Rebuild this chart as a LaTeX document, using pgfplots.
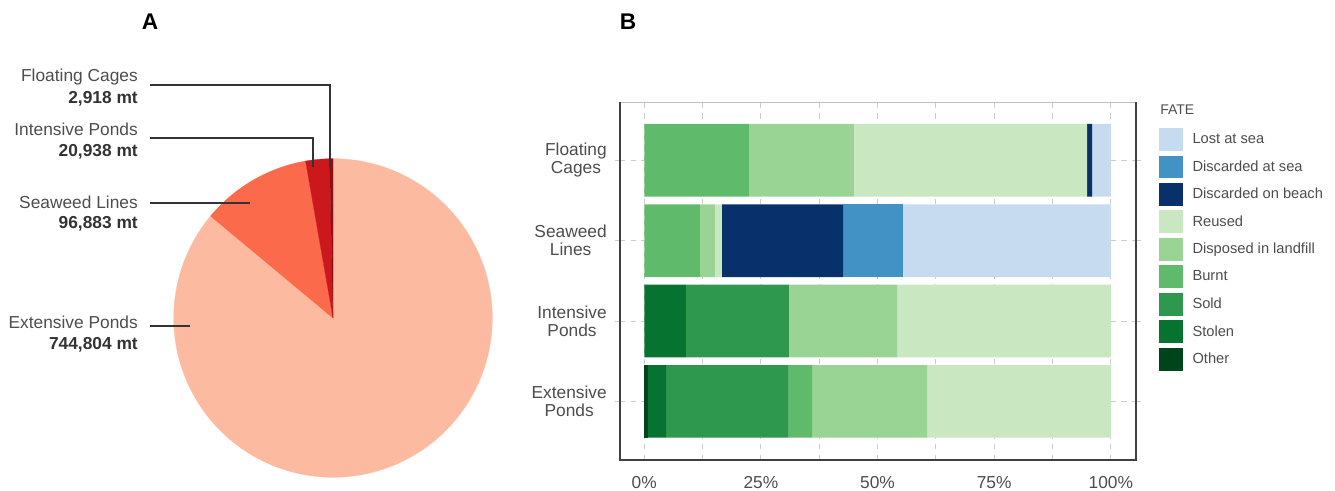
\documentclass[border=0pt]{standalone}
\usepackage{pgfplots}
\pgfplotsset{compat=1.18}
\usepackage{fontspec}
\setmainfont{Liberation Sans}
\definecolor{cEP}{HTML}{FCBBA1}
\definecolor{cSL}{HTML}{FB6A4A}
\definecolor{cIP}{HTML}{CB181D}
\definecolor{cFC}{HTML}{8E1016}
\definecolor{cLost}{HTML}{C6DBEF}
\definecolor{cAtSea}{HTML}{4292C6}
\definecolor{cBeach}{HTML}{08306B}
\definecolor{cReused}{HTML}{C9E8C1}
\definecolor{cLand}{HTML}{99D494}
\definecolor{cBurnt}{HTML}{60BA6C}
\definecolor{cSold}{HTML}{2F984F}
\definecolor{cStolen}{HTML}{077331}
\definecolor{cOther}{HTML}{00441B}
\definecolor{txt}{HTML}{4D4D4D}
\definecolor{txtb}{HTML}{333333}
\definecolor{gridc}{HTML}{CCCCCC}
% pie values, thousand mt
\def\vFC{2.918}
\def\vIP{20.938}
\def\vSL{96.883}
\def\vEP{744.804}
\pgfmathsetmacro\tot{\vFC+\vIP+\vSL+\vEP}
\pgfmathsetmacro\aA{90+(\vFC/\tot)*360}
\pgfmathsetmacro\aB{\aA+(\vIP/\tot)*360}
\pgfmathsetmacro\aC{\aB+(\vSL/\tot)*360}
\begin{document}
\begin{tikzpicture}
\path[use as bounding box] (0,0) rectangle (1001.25pt,367.5pt);
% ---------- Pie ----------
\begin{axis}[
  at={(249.75pt,129pt)}, anchor=center,
  scale only axis, width=239pt, height=239pt,
  xmin=-1, xmax=1, ymin=-1, ymax=1,
  hide axis, clip=false]
\addplot[fill=cEP, draw=cEP, line width=0.2pt, domain=\aC:450, samples=160] ({cos(x)},{sin(x)}) -- (axis cs:0,0) -- cycle;
\addplot[fill=cSL, draw=cSL, line width=0.2pt, domain=\aB:\aC, samples=40] ({cos(x)},{sin(x)}) -- (axis cs:0,0) -- cycle;
\addplot[fill=cIP, draw=cIP, line width=0.2pt, domain=\aA:\aB, samples=12] ({cos(x)},{sin(x)}) -- (axis cs:0,0) -- cycle;
\addplot[fill=cFC, draw=cFC, line width=0.2pt, domain=90:\aA, samples=4] ({cos(x)},{sin(x)}) -- (axis cs:0,0) -- cycle;
\end{axis}
% leader lines
\draw[txtb, line width=1pt] (112.5pt,303.75pt) -- (247.5pt,303.75pt) -- (247.5pt,242.25pt);
\draw[txtb, line width=1pt] (112.5pt,264pt) -- (234.75pt,264pt) -- (234.75pt,242.25pt);
\draw[txtb, line width=1pt] (112.5pt,215.25pt) -- (187.5pt,215.25pt);
\draw[txtb, line width=1pt] (112.5pt,123pt) -- (142.5pt,123pt);
\begin{scope}[every node/.style={anchor=east, inner sep=0pt, text height=9.3pt, text depth=0pt, font=\fontsize{13}{15}\selectfont}]
\node[text=txt] at (103.5pt,311.25pt) {Floating Cages};
\node[text=txtb, font=\fontsize{13}{15}\selectfont\bfseries] at (103.5pt,294.75pt) {2,918 mt};
\node[text=txt] at (103.5pt,270.75pt) {Intensive Ponds};
\node[text=txtb, font=\fontsize{13}{15}\selectfont\bfseries] at (103.5pt,255pt) {20,938 mt};
\node[text=txt] at (103.5pt,216pt) {Seaweed Lines};
\node[text=txtb, font=\fontsize{13}{15}\selectfont\bfseries] at (103.5pt,201pt) {96,883 mt};
\node[text=txt] at (103.5pt,126pt) {Extensive Ponds};
\node[text=txtb, font=\fontsize{13}{15}\selectfont\bfseries] at (103.5pt,110.25pt) {744,804 mt};
\end{scope}
\node[font=\fontsize{17}{19}\selectfont\bfseries, inner sep=0pt] at (112.5pt,351pt) {A};
\node[font=\fontsize{17}{19}\selectfont\bfseries, inner sep=0pt] at (471pt,351pt) {B};
% ---------- Stacked bars ----------
\begin{axis}[
  at={(465pt,22.5pt)}, anchor=south west,
  scale only axis, width=386.8pt, height=268.5pt,
  xbar stacked, bar width=54.5pt,
  xmin=-5.2, xmax=105.35, ymin=-0.73, ymax=3.726,
  ytick={0,1,2,3},
  yticklabels={{Extensive\\Ponds},{Intensive\\Ponds},{Seaweed\\Lines},{Floating\\Cages}},
  yticklabel style={align=center, text=txt, font=\fontsize{13}{13.5}\selectfont, xshift=-2.4pt},
  xtick={0,25,50,75,100},
  xticklabels={0\%,25\%,50\%,75\%,100\%},
  xticklabel style={text=txt, font=\fontsize{13}{15}\selectfont, yshift=-5pt},
  minor xtick={12.5,37.5,62.5,87.5},
  grid=both,
  major grid style={gridc, line width=0.75pt, dash pattern=on 4pt off 4pt},
  minor grid style={gridc, line width=0.75pt, dash pattern=on 4pt off 4pt},
  xtick style={draw=none},
  ytick style={gridc, line width=0.75pt, dash pattern=on 4pt off 4pt},
  tick align=outside, major tick length=4pt, minor tick length=0pt,
  axis line style={draw=none},
  every axis plot/.append style={draw=none},
  reverse legend,
  legend style={at={(1.045,0.928)}, anchor=north west, draw=none, fill=none,
    font=\fontsize{11}{13}\selectfont, text=txt, row sep=3.4pt, inner sep=0pt,
    cells={anchor=west}},
  legend image code/.code={\fill[#1] (0pt,-8.6pt) rectangle (18pt,8.6pt); \path (23pt,0pt);},
  extra description/.code={
    \draw[black!25, line width=0.75pt] (rel axis cs:0,1) -- (rel axis cs:1,1);
    \draw[black!75, line width=1.5pt] (rel axis cs:0,1) -- (rel axis cs:0,0) -- (rel axis cs:1,0) -- (rel axis cs:1,1);
  },
]
\addplot[fill=cOther] coordinates {(0.8,0) (0,1) (0,2) (0,3)};
\addlegendentry{Other}
\addplot[fill=cStolen] coordinates {(3.86,0) (8.94,1) (0,2) (0,3)};
\addlegendentry{Stolen}
\addplot[fill=cSold] coordinates {(26.16,0) (22.08,1) (0,2) (0,3)};
\addlegendentry{Sold}
\addplot[fill=cBurnt] coordinates {(5.15,0) (0,1) (11.94,2) (22.45,3)};
\addlegendentry{Burnt}
\addplot[fill=cLand] coordinates {(24.66,0) (23.16,1) (3.22,2) (22.5,3)};
\addlegendentry{Disposed in landfill}
\addplot[fill=cReused] coordinates {(39.37,0) (45.82,1) (1.5,2) (49.96,3)};
\addlegendentry{Reused}
\addplot[fill=cBeach] coordinates {(0,0) (0,1) (25.94,2) (1.07,3)};
\addlegendentry{Discarded on beach}
\addplot[fill=cAtSea] coordinates {(0,0) (0,1) (12.86,2) (0,3)};
\addlegendentry{Discarded at sea}
\addplot[fill=cLost] coordinates {(0,0) (0,1) (44.54,2) (4.02,3)};
\addlegendentry{Lost at sea}
\end{axis}
\node[anchor=west, inner sep=0pt, text=txt, font=\fontsize{10.5}{12}\selectfont] at (870pt,285pt) {FATE};
\end{tikzpicture}
\end{document}
